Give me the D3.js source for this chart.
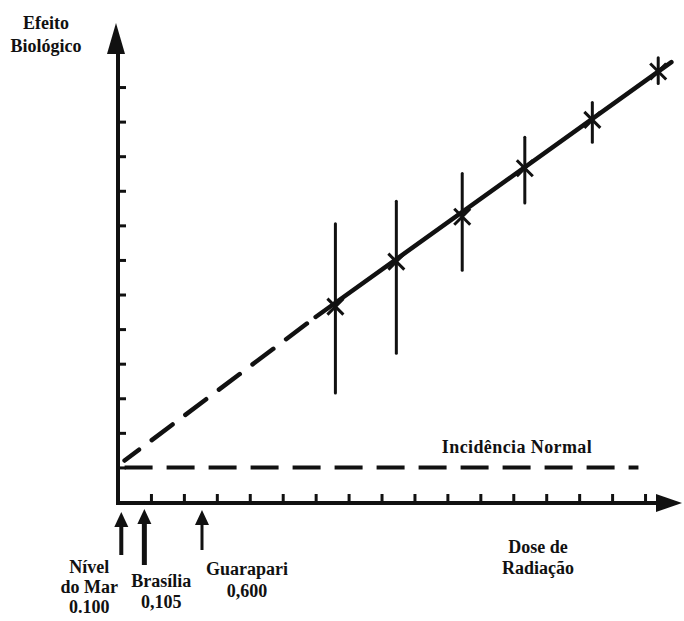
<!DOCTYPE html>
<meta charset="utf-8">
<style>
body { margin: 0; background: #fff; }
svg { display: block; }
text {
  font-family: "Liberation Serif", "DejaVu Serif", serif;
  font-weight: bold;
  font-size: 18px;
  fill: #111;
}
.axis path.domain { display: none; }
.axis line { stroke: #111; stroke-width: 3px; }
</style>
<body>
<script src="https://cdn.jsdelivr.net/npm/d3@7/dist/d3.min.js"></script>
<script>
// measured points (arbitrary units on the tick grid)
var doseX     = [6.6, 8.45, 10.45, 12.35, 14.4, 16.4];
var effectY   = [5.65, 6.95, 8.25, 9.65, 11.05, 12.45];
var errLow    = [3.15, 4.3, 6.7, 8.65, 10.4, 12.1];
var errHigh   = [8.05, 8.7, 9.5, 10.55, 11.55, 12.85];

// fitted line: extrapolated part and measured part
var dashedFit = [[0.2, 1.2], [6.0, 5.35]];
var solidFit  = [[6.0, 5.35], [16.8, 12.72]];

// normal incidence level
var normalLevel = 1.0;
var normalRange = [0.2, 15.8];

var yTicks = d3.range(1, 13);
var xTicks = d3.range(1, 17);

var sites      = ["Nível do Mar", "Brasília", "Guarapari"];
var siteDose   = [0.1, 0.8, 2.55];
var siteLines  = [["Nível", "do Mar", "0.100"], ["Brasília", "0,105"], ["Guarapari", "0,600"]];

var width = 684, height = 621;

var x = d3.scaleLinear().domain([0, 17]).range([118, 118 + 17 * 32.94]);
var y = d3.scaleLinear().domain([0, 13]).range([502, 502 - 13 * 34.58]);

var svg = d3.select("body").append("svg")
    .attr("width", width)
    .attr("height", height);

// axes lines + arrow heads
var x0 = x(0), y0 = y(0);
svg.append("line")
    .attr("x1", x0).attr("y1", y0 + 2)
    .attr("x2", x0).attr("y2", 50)
    .attr("stroke", "#111").attr("stroke-width", 4);
svg.append("path")
    .attr("d", "M" + (x0 - 2) + ",23L" + (x0 - 11) + ",54L" + (x0 + 7) + ",54Z")
    .attr("fill", "#111");

svg.append("line")
    .attr("x1", x0 - 2).attr("y1", y0 + 1)
    .attr("x2", 660).attr("y2", y0 + 1)
    .attr("stroke", "#111").attr("stroke-width", 4);
svg.append("path")
    .attr("d", "M682," + (y0 + 1) + "L656," + (y0 - 8) + "L656," + (y0 + 10) + "Z")
    .attr("fill", "#111");

svg.append("g")
    .attr("class", "axis")
    .attr("transform", "translate(" + x0 + ",0)")
    .call(d3.axisRight(y).tickValues(yTicks).tickSize(8).tickFormat(""));

svg.append("g")
    .attr("class", "axis")
    .attr("transform", "translate(0," + y0 + ")")
    .call(d3.axisTop(x).tickValues(xTicks).tickSize(8).tickFormat(""));

// normal incidence dashed line
svg.append("line")
    .attr("x1", x(normalRange[0])).attr("y1", y(normalLevel))
    .attr("x2", x(normalRange[1])).attr("y2", y(normalLevel))
    .attr("stroke", "#111").attr("stroke-width", 4)
    .attr("stroke-dasharray", "28,14");

var line = d3.line()
    .x(function(d) { return x(d[0]); })
    .y(function(d) { return y(d[1]); });

svg.append("path")
    .datum(dashedFit)
    .attr("d", line)
    .attr("fill", "none").attr("stroke", "#111").attr("stroke-width", 4.5)
    .attr("stroke-linecap", "round")
    .attr("stroke-dasharray", "26,16")
    .attr("stroke-dashoffset", 8);

svg.append("path")
    .datum(solidFit)
    .attr("d", line)
    .attr("fill", "none").attr("stroke", "#111").attr("stroke-width", 4.5)
    .attr("stroke-linecap", "round");

// error bars and markers
var pts = doseX.map(function(d, i) {
  return { x: d, y: effectY[i], lo: errLow[i], hi: errHigh[i] };
});

var g = svg.selectAll("g.pt")
    .data(pts)
  .enter().append("g")
    .attr("class", "pt");

g.append("line")
    .attr("x1", function(d) { return x(d.x); })
    .attr("x2", function(d) { return x(d.x); })
    .attr("y1", function(d) { return y(d.lo); })
    .attr("y2", function(d) { return y(d.hi); })
    .attr("stroke", "#111").attr("stroke-width", 3)
    .attr("stroke-linecap", "round");

g.append("path")
    .attr("transform", function(d) { return "translate(" + x(d.x) + "," + y(d.y) + ")"; })
    .attr("d", "M-8,-8L8,8M-8,8L8,-8")
    .attr("stroke", "#111").attr("stroke-width", 3);

// labels
svg.append("text").attr("x", 46).attr("y", 29).attr("text-anchor", "middle").text("Efeito");
svg.append("text").attr("x", 46).attr("y", 52).attr("text-anchor", "middle").text("Biológico");

svg.append("text").attr("x", 517).attr("y", 453).attr("text-anchor", "middle")
    .style("letter-spacing", "0.4px").text("Incidência Normal");

svg.append("text").attr("x", 538).attr("y", 553).attr("text-anchor", "middle").text("Dose de");
svg.append("text").attr("x", 538).attr("y", 574).attr("text-anchor", "middle").text("Radiação");

// site arrows under the dose axis
var arrowSpec = [{ top: 512, bot: 555, w: 4 }, { top: 509, bot: 565, w: 5 }, { top: 510, bot: 550, w: 3 }];
var labelSpec = [{ dx: -32, base: 573, step: 20 }, { dx: 17, base: 587, step: 21 }, { dx: 45, base: 575, step: 22 }];

sites.forEach(function(s, i) {
  var ax = x(siteDose[i]), a = arrowSpec[i], l = labelSpec[i];
  svg.append("line")
      .attr("x1", ax).attr("x2", ax)
      .attr("y1", a.top + 10).attr("y2", a.bot)
      .attr("stroke", "#111").attr("stroke-width", a.w);
  svg.append("path")
      .attr("d", "M" + ax + "," + a.top + "L" + (ax - 7) + "," + (a.top + 15) + "L" + (ax + 7) + "," + (a.top + 15) + "Z")
      .attr("fill", "#111");
  siteLines[i].forEach(function(t, j) {
    svg.append("text")
        .attr("x", ax + l.dx)
        .attr("y", l.base + j * l.step)
        .attr("text-anchor", "middle")
        .text(t);
  });
});
</script>
